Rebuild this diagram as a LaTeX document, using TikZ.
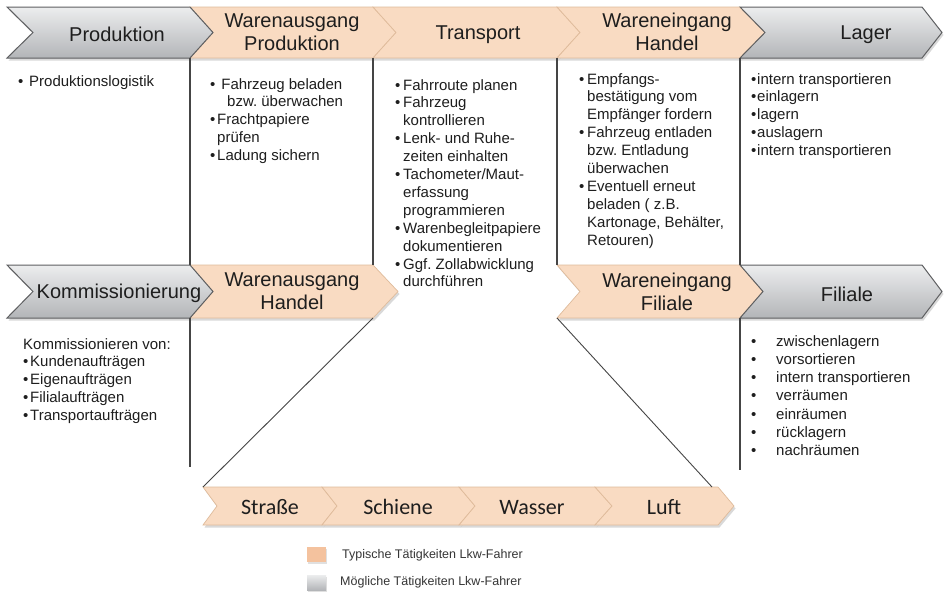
\documentclass[tikz,border=0pt]{standalone}
\usepackage{fontspec}
\setmainfont{Liberation Sans}
\newfontfamily\calfont{Carlito}
\frenchspacing
\definecolor{peach}{HTML}{F9DBC2}
\definecolor{pline}{HTML}{DFBB9B}
\definecolor{gtop}{HTML}{ECEDEE}
\definecolor{gbot}{HTML}{B3B5B8}
\definecolor{gline}{HTML}{5E5F61}
\definecolor{linec}{HTML}{454545}
\definecolor{txt}{HTML}{1E1E1E}
\definecolor{legor}{HTML}{F4C29E}
\newcommand\bul[1][8pt]{\makebox[#1][l]{\textbullet}}
\newcommand\ind[1][8pt]{\hspace*{#1}}
\newcommand\chv[7]{\path[#1] (#2,#3) -- (#4,#3) -- ({#4+#7},{(#3+#5)/2}) -- (#4,#5) -- (#2,#5) -- ({#2+#6},{(#3+#5)/2}) -- cycle;}
\tikzset{
  ln/.style={draw=linec, line width=1.2pt},
  dg/.style={draw=linec, line width=0.9pt},
  ttl/.style={font=\fontsize{20}{23}\selectfont, text=txt, align=center, inner sep=0pt},
  body/.style={font=\frenchspacing\fontsize{15}{17.9}\selectfont, text=txt, align=left, inner sep=0pt, anchor=north west},
  bodyf/.style={font=\frenchspacing\fontsize{15}{18.3}\selectfont, text=txt, align=left, inner sep=0pt, anchor=north west},
  mode/.style={font=\calfont\fontsize{22}{24}\selectfont, text=txt, inner sep=0pt, anchor=base},
  leg/.style={font=\fontsize{12.5}{14}\selectfont, text=txt!90, inner sep=0pt, anchor=west},
  gch/.style={top color=gtop, bottom color=gbot, draw=gline, line width=1pt},
  och/.style={fill=peach, draw=pline, line width=0.7pt},
  shd/.style={fill=black, opacity=0.15, xshift=1.5pt, yshift=-2.5pt},
}
\begin{document}
\begin{tikzpicture}[x=1pt,y=-1pt]
\useasboundingbox (0,0) rectangle (945,592);
\fill[white] (0,0) rectangle (945,592);

% ---- shadows
\chv{shd}{7}{7}{190}{58}{26}{23}
\chv{shd}{190}{7}{373}{58}{23}{23}
\chv{shd}{373}{7}{557}{58}{23}{23}
\chv{shd}{557}{7}{740}{58}{23}{25}
\chv{shd}{740}{7}{922}{58}{25}{20}
\chv{shd}{7}{265}{190}{318}{26}{23}
\chv{shd}{190}{265}{373}{318}{23}{25}
\chv{shd}{557}{265}{740}{318}{23}{23}
\chv{shd}{740}{265}{922}{318}{23}{20}
\chv{shd}{203}{487}{322}{525}{14}{15}
\chv{shd}{322}{487}{459}{525}{15}{16}
\chv{shd}{459}{487}{595}{525}{16}{17}
\chv{shd}{595}{487}{718}{525}{17}{16}

% ---- top row
\chv{och}{190}{7}{373}{58}{23}{23}
\chv{och}{373}{7}{557}{58}{23}{23}
\chv{och}{557}{7}{740}{58}{23}{25}
\chv{gch}{7}{7}{190}{58}{26}{23}
\chv{gch}{740}{7}{922}{58}{25}{20}

% ---- second row
\chv{och}{190}{265}{373}{318}{23}{25}
\chv{och}{557}{265}{740}{318}{23}{23}
\chv{gch}{7}{265}{190}{318}{26}{23}
\chv{gch}{740}{265}{922}{318}{23}{20}

% ---- transport modes
\chv{och}{203}{487}{322}{525}{14}{15}
\chv{och}{322}{487}{459}{525}{15}{16}
\chv{och}{459}{487}{595}{525}{16}{17}
\chv{och}{595}{487}{718}{525}{17}{16}

% ---- titles
\node[ttl] (hProd) at (117,34) {Produktion};
\node[ttl] (hWAP) at (292,32) {Warenausgang\\Produktion};
\node[ttl] (hTra) at (478,35) {Transport};
\node[ttl] (hWEH) at (667,32) {Wareneingang\\Handel};
\node[ttl] (hLag) at (866,35) {Lager};
\node[ttl] (hKom) at (119,293) {Kommissionierung};
\node[ttl] (hWAH) at (292,291) {Warenausgang\\Handel};
\node[ttl] (hWEF) at (667,292) {Wareneingang\\Filiale};
\node[ttl] (hFil) at (847,294) {Filiale};

\node[mode] (mStr) at (270,514) {Straße};
\node[mode] (mSch) at (398,514) {Schiene};
\node[mode] (mWas) at (532,514) {Wasser};
\node[mode] (mLuf) at (664,514) {Luft};

% ---- divider lines
\coordinate (a1) at (190,58);  \coordinate (a2) at (190,265);
\coordinate (a3) at (190,318); \coordinate (a4) at (190,467);
\coordinate (b1) at (373,58);  \coordinate (b2) at (373,265);
\coordinate (c1) at (557,58);  \coordinate (c2) at (557,265);
\coordinate (d1) at (740,58);  \coordinate (d2) at (740,265);
\coordinate (d3) at (740,318); \coordinate (d4) at (740,470);
\coordinate (e1) at (373,318); \coordinate (e2) at (203,487);
\coordinate (f1) at (557,318); \coordinate (f2) at (712,487);
\draw[ln] (a1) -- (a2);
\draw[ln] (a3) -- (a4);
\draw[ln] (b1) -- (b2);
\draw[ln] (c1) -- (c2);
\draw[ln] (d1) -- (d2);
\draw[ln] (d3) -- (d4);
\draw[dg] (e1) -- (e2);
\draw[dg] (f1) -- (f2);

% ---- column texts
\node[body] (tProd) at (18,75) {\bul[11pt]Produktionslogistik};
\node[body] (tWAP) at (210,78) {\bul[7pt]\ Fahrzeug beladen\\\ind[17pt]bzw. überwachen\\\bul[7pt]Frachtpapiere\\\ind[7pt]prüfen\\\bul[7pt]Ladung sichern};
\node[body] (tTra) at (395,79) {\bul[8pt]Fahrroute planen\\\bul[8pt]Fahrzeug\\\ind kontrollieren\\\bul[8pt]Lenk- und Ruhe-\\\ind zeiten einhalten\\\bul[8pt]Tachometer/Maut-\\\ind erfassung\\\ind programmieren\\\bul[8pt]Warenbegleitpapiere\\\ind dokumentieren\\\bul[8pt]Ggf. Zollabwicklung\\\ind durchführen};
\node[body] (tWEH) at (579,73) {\bul[8pt]Empfangs-\\\ind bestätigung vom\\\ind Empfänger fordern\\\bul[8pt]Fahrzeug entladen\\\ind bzw. Entladung\\\ind überwachen\\\bul[8pt]Eventuell erneut\\\ind beladen ( z.B.\\\ind Kartonage, Behälter,\\\ind Retouren)};
\node[body] (tLag) at (751,73) {\bul[6pt]intern transportieren\\\bul[6pt]einlagern\\\bul[6pt]lagern\\\bul[6pt]auslagern\\\bul[6pt]intern transportieren};
\node[body] (tKom) at (23,338) {Kommissionieren von:\\\bul[7pt]Kundenaufträgen\\\bul[7pt]Eigenaufträgen\\\bul[7pt]Filialaufträgen\\\bul[7pt]Transportaufträgen};
\node[bodyf] (tFil) at (751,335) {\bul[25pt]zwischenlagern\\\bul[25pt]vorsortieren\\\bul[25pt]intern transportieren\\\bul[25pt]verräumen\\\bul[25pt]einräumen\\\bul[25pt]rücklagern\\\bul[25pt]nachräumen};

% ---- legend
\fill[black, opacity=0.12] (308,549) rectangle (327,564);
\fill[black, opacity=0.12] (308,577) rectangle (327,592);
\path[fill=legor] (307,547) rectangle (326,562);
\path[top color=gtop, bottom color=gbot] (307,575) rectangle (326,590);
\node[leg] (lTyp) at (342,555) {Typische Tätigkeiten Lkw-Fahrer};
\node[leg] (lMoe) at (340,582) {Mögliche Tätigkeiten Lkw-Fahrer};
\end{tikzpicture}
\end{document}
